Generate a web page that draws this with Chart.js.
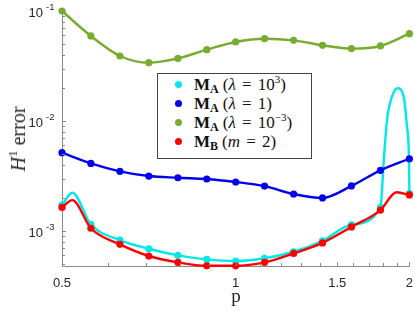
<!DOCTYPE html>
<html>
<head>
<meta charset="utf-8">
<script src="https://cdn.jsdelivr.net/npm/chart.js@4.4.1/dist/chart.umd.min.js"></script>
<style>
  html, body { margin: 0; padding: 0; background: #fff; }
  #wrap { position: relative; width: 415px; height: 311px; }
  #yTitle {
    position: absolute; left: 18px; top: 139px;
    transform: translate(-50%, -50%) rotate(-90deg);
    font-family: "Liberation Serif", "DejaVu Serif", serif; font-size: 20px;
    white-space: nowrap; color: #262626; line-height: 20px;
  }
  #yTitle sup { font-size: 13px; line-height: 0; vertical-align: 8px; }
  #xTitle {
    position: absolute; left: 236px; top: 296px;
    transform: translate(-50%, -50%);
    font-family: "Liberation Serif", "DejaVu Serif", serif; font-size: 19px; color: #262626;
  }
  #legend {
    position: absolute; left: 157px; top: 73px; width: 153px; height: 84px;
    border: 1px solid #444; background: #fff;
    font-family: "Liberation Serif", "DejaVu Serif", serif; font-size: 17px; color: #111;
  }
  .row { position: absolute; left: 0; height: 19px; line-height: 19px; white-space: nowrap; }
  .dot { position: absolute; left: 17px; top: 6px; width: 7px; height: 7px; border-radius: 50%; }
  .lab { position: absolute; left: 36px; top: 0; line-height: 19px; word-spacing: 2px; }
  .lab sub { font-size: 12px; line-height: 0; vertical-align: -3px; margin-right: 4px; }
  .lab sup { font-size: 11px; line-height: 0; vertical-align: 7px; }
</style>
</head>
<body>
<div id="wrap">
  <canvas id="errChart" width="415" height="311"></canvas>
  <div id="yTitle"><i>H</i><sup>1</sup> error</div>
  <div id="xTitle">p</div>
  <div id="legend"></div>
</div>
<script>
// p values where the markers sit
const pValues = [0.5, 0.561, 0.630, 0.707, 0.794, 0.891, 1, 1.122, 1.26, 1.414, 1.587, 1.782, 2];

// H1 error per method (marker values)
const errA1e3 = [0.00172, 0.00115, 0.000828, 0.00069, 0.000601, 0.000552, 0.000533, 0.000565, 0.000648, 0.000816, 0.00114, 0.00164, 0.0022];
const errA1 = [0.00515, 0.00412, 0.00349, 0.00316, 0.00305, 0.00297, 0.00279, 0.00256, 0.00217, 0.0020, 0.00257, 0.00356, 0.00454];
const errA1em3 = [0.1, 0.0593, 0.039, 0.0339, 0.0371, 0.0445, 0.0523, 0.056, 0.0541, 0.0488, 0.0455, 0.0481, 0.0622];
const errB = [0.00164, 0.00106, 0.000757, 0.000593, 0.000519, 0.000483, 0.000483, 0.000519, 0.000626, 0.00078, 0.00109, 0.00155, 0.00213];

// extra curve points between markers
const curveA1e3P = [0.521, 1.806, 1.829, 1.866, 1.909, 1.955, 1.981, 1.997];
const curveA1e3V = [0.00223, 0.00442, 0.0102, 0.01663, 0.01983, 0.01663, 0.00887, 0.00442];
const curveBP = [0.521, 1.9];
const curveBV = [0.00191, 0.00225];

// axis ticks
const xTicks = [0.5, 0.6, 0.7, 0.8, 0.9, 1, 1.1, 1.2, 1.3, 1.4, 1.5, 1.6, 1.7, 1.8, 1.9, 2];
const xLabels = [0.5, 1, 1.5, 2];
const yDecades = [-3, -2, -1];

const labels = [
  '<b>M</b><sub><b>A</b></sub>(<i>λ</i> = 10<sup>3</sup>)',
  '<b>M</b><sub><b>A</b></sub>(<i>λ</i> = 1)',
  '<b>M</b><sub><b>A</b></sub>(<i>λ</i> = 10<sup>−3</sup>)',
  '<b>M</b><sub><b>B</b></sub>(<i>m</i> = 2)'
];
const colors = ['#00e8e8', '#0000ee', '#77ac30', '#ff0000'];

function series(vals, extraP, extraV) {
  const pts = pValues.map((p, i) => ({ x: p, y: vals[i], m: true }));
  (extraP || []).forEach((p, i) => pts.push({ x: p, y: extraV[i], m: false }));
  return pts.sort((a, b) => a.x - b.x);
}

const allData = [
  series(errA1e3, curveA1e3P, curveA1e3V),
  series(errA1),
  series(errA1em3),
  series(errB, curveBP, curveBV)
];

const datasets = allData.map((d, i) => ({
  label: 'series' + i,
  data: d,
  borderColor: colors[i],
  backgroundColor: colors[i],
  pointBackgroundColor: colors[i],
  pointBorderWidth: 0,
  pointRadius: ctx => (ctx.raw && ctx.raw.m ? 3.6 : 0),
  pointHoverRadius: ctx => (ctx.raw && ctx.raw.m ? 3.6 : 0),
  borderWidth: 2.4,
  cubicInterpolationMode: 'monotone',
  clip: false,
  order: 3 - i
}));

const axisColor = '#8a8a8a';
const textColor = '#262626';

// inward tick marks + y labels with exponent
const axisDecor = {
  id: 'axisDecor',
  afterDraw(chart) {
    const c = chart.ctx;
    const xs = chart.scales.x, ys = chart.scales.y;
    const area = chart.chartArea;
    c.save();
    c.strokeStyle = axisColor;
    c.lineWidth = 1;
    c.beginPath();
    xTicks.forEach(v => {
      const px = Math.round(xs.getPixelForValue(v)) + 0.5;
      const len = xLabels.includes(v) ? 4 : 3;
      c.moveTo(px, area.bottom);
      c.lineTo(px, area.bottom - len);
    });
    for (let k = -4; k <= -1; k++) {
      for (let n = 1; n <= 9; n++) {
        const v = n * Math.pow(10, k);
        if (v < ys.min || v > ys.max * 1.0001) continue;
        const py = Math.round(ys.getPixelForValue(v)) + 0.5;
        const len = n === 1 ? 4 : 3;
        c.moveTo(area.left, py);
        c.lineTo(area.left + len, py);
      }
    }
    c.stroke();

    c.fillStyle = textColor;
    c.textBaseline = 'middle';
    yDecades.forEach(k => {
      const py = ys.getPixelForValue(Math.pow(10, k));
      c.font = '13px "Liberation Sans", Arial, sans-serif';
      c.textAlign = 'right';
      c.fillText('10', area.left - 19, py + 2);
      c.font = '9.5px "Liberation Sans", Arial, sans-serif';
      c.textAlign = 'left';
      c.fillText(String(k), area.left - 16, py - 4);
    });
    c.restore();
  }
};

new Chart(document.getElementById('errChart'), {
  type: 'line',
  data: { datasets },
  options: {
    responsive: false,
    animation: false,
    layout: { padding: { left: 0, right: 4, top: 11, bottom: 0 } },
    plugins: { legend: { display: false }, tooltip: { enabled: false } },
    scales: {
      x: {
        type: 'logarithmic',
        min: 0.5,
        max: 2,
        afterBuildTicks: s => { s.ticks = xTicks.map(v => ({ value: v })); },
        afterFit: s => { s.height = 45; },
        grid: { display: false },
        border: { display: true, color: axisColor, width: 1 },
        ticks: {
          autoSkip: false,
          maxRotation: 0,
          padding: 2,
          color: textColor,
          font: { family: '"Liberation Sans", Arial, sans-serif', size: 13 },
          callback: v => (xLabels.includes(v) ? String(v) : '')
        }
      },
      y: {
        type: 'logarithmic',
        min: 4.81e-4,
        max: 0.1,
        afterFit: s => { s.width = 62; },
        grid: { display: false },
        border: { display: true, color: axisColor, width: 1 },
        ticks: { display: false }
      }
    }
  },
  plugins: [axisDecor]
});

// legend
const legend = document.getElementById('legend');
labels.forEach((lab, i) => {
  const row = document.createElement('div');
  row.className = 'row';
  row.style.top = (1 + i * 19) + 'px';
  row.innerHTML = '<span class="dot" style="background:' + colors[i] + '"></span><span class="lab">' + lab + '</span>';
  legend.appendChild(row);
});
</script>
</body>
</html>
